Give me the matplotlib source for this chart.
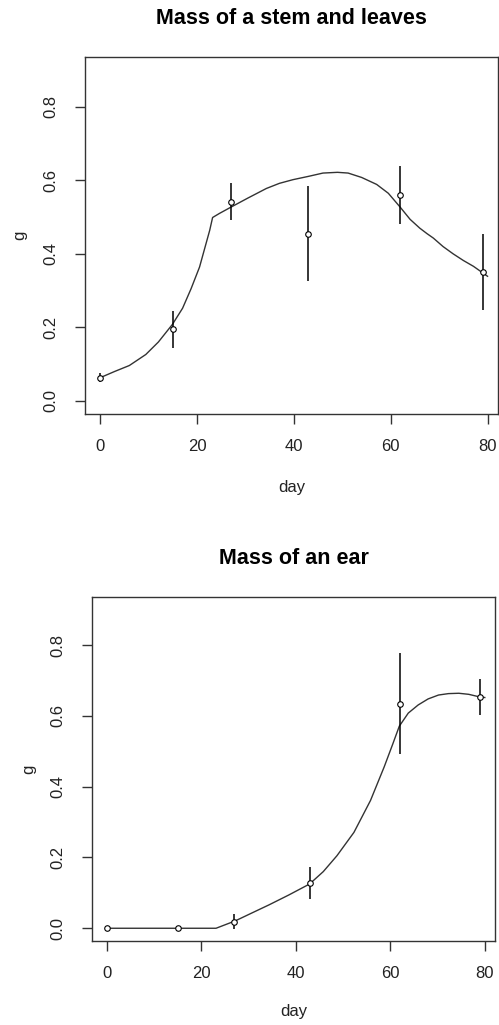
import matplotlib
matplotlib.use("Agg")
import matplotlib.pyplot as plt
import numpy as np

plt.rcParams['font.family'] = ['Liberation Sans', 'DejaVu Sans']

# ---- data: stem and leaves ----
obs_day = [0, 15, 27, 43, 62, 79]
stem_mean = [0.063, 0.195, 0.542, 0.455, 0.560, 0.350]
stem_err = [0.012, 0.050, 0.050, 0.130, 0.079, 0.103]
stem_fit_day = [0, 3, 6, 9.4, 12, 14.9, 17, 18.75, 20.5, 22.6, 23.2, 24.6, 27.1, 30.5,
                34.3, 37, 39.8, 43, 46, 49, 51.2, 54, 57.1, 59.5, 61.9, 64, 66, 67.5, 68.8,
                70.8, 72.9, 75, 77.1, 80]
stem_fit = [0.063, 0.080, 0.096, 0.126, 0.160, 0.208, 0.252, 0.305, 0.364, 0.464, 0.499,
            0.510, 0.528, 0.552, 0.578, 0.592, 0.602, 0.611, 0.620, 0.622, 0.620, 0.608,
            0.589, 0.565, 0.528, 0.494, 0.470, 0.455, 0.443, 0.420, 0.400, 0.382, 0.366, 0.339]

# ---- data: ear ----
ear_mean = [0.0, 0.0, 0.019, 0.129, 0.635, 0.653]
ear_err = [0.0, 0.0, 0.021, 0.045, 0.143, 0.050]
ear_fit_day = [0, 15, 23.1, 27.2, 30.5, 34.3, 38.5, 42.9, 45.8, 48.7, 52.3, 55.8, 58.7,
               60.5, 61.9, 63.8, 65.9, 68, 70.2, 72.3, 74.5, 76.6, 78.8, 80]
ear_fit = [0.0, 0.0, 0.0, 0.021, 0.042, 0.066, 0.094, 0.125, 0.160, 0.205, 0.271, 0.361,
           0.456, 0.520, 0.571, 0.608, 0.631, 0.648, 0.659, 0.663, 0.664, 0.661, 0.654, 0.652]

titles = ["Mass of a stem and leaves", "Mass of an ear"]
xticks = [0, 20, 40, 60, 80]
yticks = [0.0, 0.2, 0.4, 0.6, 0.8]
ytick_labels = ["0.0", "0.2", "0.4", "0.6", "0.8"]

W, H = 499, 1025
fig = plt.figure(figsize=(W / 100, H / 100), dpi=100)

# axes rectangles in pixels: left, top, right, bottom
rects = [(85, 57, 498, 414), (92, 597, 495, 941)]
title_y = [18, 559]
xlab_y = [-0.2045, -0.206]
ylab_x = [-0.157, -0.156]
series = [(stem_mean, stem_err, stem_fit_day, stem_fit),
          (ear_mean, ear_err, ear_fit_day, ear_fit)]

for i, (l, t, r, b) in enumerate(rects):
    ax = fig.add_axes([l / W, 1 - b / H, (r - l) / W, (b - t) / H])
    mean, err, fd, fv = series[i]
    ax.plot(fd, fv, color='#333333', lw=1.0)
    ax.errorbar(obs_day, mean, yerr=err, fmt='none', ecolor='black', elinewidth=1.1, capsize=0)
    ax.plot(obs_day, mean, linestyle='none', marker='o', markersize=4,
            markerfacecolor='white', markeredgecolor='black', markeredgewidth=0.8)
    ax.set_xlim(-3.16, 82.16)
    ax.set_ylim(-0.036, 0.936)
    ax.set_xticks(xticks)
    ax.set_yticks(yticks)
    ax.set_yticklabels(ytick_labels, rotation=90, va='center')
    ax.tick_params(axis='both', direction='out', length=7, width=1, labelsize=12,
                   color='#333333', labelcolor='#222222')
    ax.tick_params(axis='x', pad=11)
    ax.tick_params(axis='y', pad=12)
    for s in ax.spines.values():
        s.set_linewidth(1.0)
        s.set_color('#333333')
    ax.set_title(titles[i], fontsize=15.5, fontweight='bold',
                 y=1 + (t - title_y[i]) / (b - t), va='center', pad=0)
    ax.set_xlabel("day", fontsize=12, color='#222222')
    ax.xaxis.set_label_coords(0.5, xlab_y[i])
    ax.xaxis.label.set_va('center')
    ax.set_ylabel("g", fontsize=12, color='#222222')
    ax.yaxis.set_label_coords(ylab_x[i], 0.5)
    ax.yaxis.label.set_va('center')

fig.savefig("out.png", dpi=100)
